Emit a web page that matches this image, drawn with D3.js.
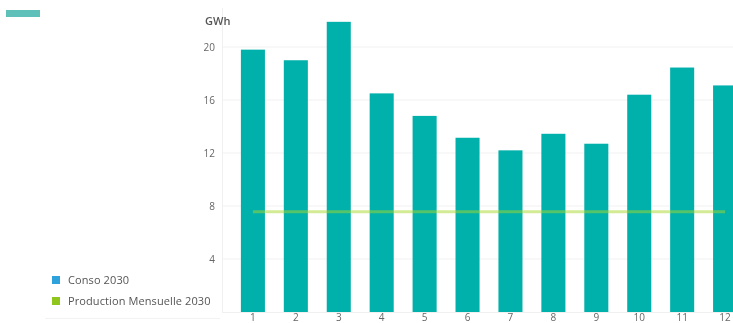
<!DOCTYPE html>
<html>
<head>
<meta charset="utf-8">
<script src="https://cdn.jsdelivr.net/npm/d3@7/dist/d3.min.js"></script>
<style>
  html, body { margin: 0; padding: 0; background: #fff; overflow: hidden; }
  svg { display: block; filter: blur(0.35px); }
  text { font-family: "Open Sans", sans-serif; }
</style>
</head>
<body>
<svg id="chart" width="733" height="323"></svg>
<script>
// Monthly consumption vs. monthly production, 2030 (GWh)
const months = ["1","2","3","4","5","6","7","8","9","10","11","12"];
const conso2030 = [19.8, 19.0, 21.9, 16.5, 14.8, 13.15, 12.2, 13.45, 12.7, 16.4, 18.45, 17.1];
const production2030 = [7.57, 7.57, 7.57, 7.57, 7.57, 7.57, 7.57, 7.57, 7.57, 7.57, 7.57, 7.57];
const yTicks = [4, 8, 12, 16, 20];
const legendLabels = ["Conso 2030", "Production Mensuelle 2030"];
const unitLabel = "GWh";

const svg = d3.select("#chart");

const plot = { left: 222, right: 756, top: 8, bottom: 312 };

const x = d3.scaleBand()
  .domain(months)
  .range([plot.left, plot.right])
  .paddingInner(0.44)
  .paddingOuter(0.44);

const y = d3.scaleLinear()
  .domain([0, 20])
  .range([plot.bottom, 47]);

// Horizontal gridlines
svg.append("g")
  .selectAll("line")
  .data(yTicks)
  .join("line")
  .attr("x1", plot.left)
  .attr("x2", 733)
  .attr("y1", d => y(d))
  .attr("y2", d => y(d))
  .attr("stroke", "#f1f1f1")
  .attr("stroke-width", 1);

// Left axis line
svg.append("line")
  .attr("x1", plot.left + 0.5).attr("x2", plot.left + 0.5)
  .attr("y1", plot.top).attr("y2", plot.bottom)
  .attr("stroke", "#f0f0f0");

// Y axis tick labels
const yAxis = d3.axisLeft(y).tickValues(yTicks).tickSize(0).tickPadding(0).tickFormat(d3.format("d"));
const yg = svg.append("g").attr("transform", `translate(215,0)`).call(yAxis);
yg.select(".domain").remove();
yg.selectAll("text")
  .attr("fill", "#666")
  .style("font-size", "10px")
  .style("font-family", "'Open Sans', sans-serif");

// Unit label
svg.append("text")
  .attr("x", 205)
  .attr("y", 25)
  .attr("fill", "#555")
  .style("font-size", "11px")
  .style("font-weight", "600")
  .text(unitLabel);

// Consumption bars
svg.append("g")
  .selectAll("rect")
  .data(conso2030)
  .join("rect")
  .attr("x", (d, i) => x(months[i]))
  .attr("width", x.bandwidth())
  .attr("y", d => y(d))
  .attr("height", d => y(0) - y(d))
  .attr("fill", "#00b0aa");

// Production line
const line = d3.line()
  .x((d, i) => x(months[i]) + x.bandwidth() / 2)
  .y(d => y(d));

svg.append("path")
  .datum(production2030)
  .attr("d", line)
  .attr("fill", "none")
  .attr("stroke", "#a8d82c")
  .attr("stroke-opacity", 0.5)
  .attr("stroke-width", 3);

// X axis tick labels
const xAxis = d3.axisBottom(x).tickSize(0).tickPadding(0);
const xg = svg.append("g").attr("transform", `translate(0,${plot.bottom + 2})`).call(xAxis);
xg.select(".domain").remove();
xg.selectAll("text")
  .attr("fill", "#666")
  .attr("dy", "0.71em")
  .style("font-size", "10px")
  .style("font-family", "'Open Sans', sans-serif");

// Bottom axis line
svg.append("line")
  .attr("x1", plot.left).attr("x2", 733)
  .attr("y1", plot.bottom + 0.5).attr("y2", plot.bottom + 0.5)
  .attr("stroke", "#f0f0f0");

// Header swatch
svg.append("rect")
  .attr("x", 6).attr("y", 10)
  .attr("width", 34).attr("height", 7)
  .attr("fill", "#5fc0ba");

// Legend
const legendColors = ["#2ea2dc", "#8fc51c"];
const lg = svg.append("g");
lg.selectAll("rect")
  .data(legendLabels)
  .join("rect")
  .attr("x", 52)
  .attr("y", (d, i) => 276 + i * 21)
  .attr("width", 8)
  .attr("height", 8)
  .attr("fill", (d, i) => legendColors[i]);
lg.selectAll("text")
  .data(legendLabels)
  .join("text")
  .attr("x", 68)
  .attr("y", (d, i) => 280 + i * 21)
  .attr("dy", "0.35em")
  .attr("fill", "#555")
  .style("font-size", "11px")
  .style("letter-spacing", "0.1px")
  .text(d => d);
lg.append("line")
  .attr("x1", 45).attr("x2", 220)
  .attr("y1", 318.5).attr("y2", 318.5)
  .attr("stroke", "#f2f2f2");
</script>
</body>
</html>
